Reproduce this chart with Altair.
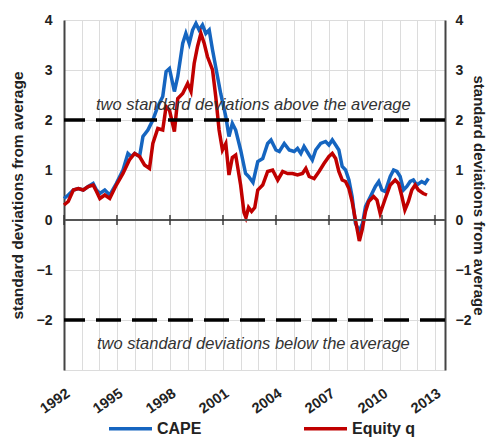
import altair as alt
import pandas as pd

# ---- data ----
cape_years = [1992.0, 1992.24, 1992.53, 1992.81, 1993.09, 1993.37, 1993.65, 1993.84, 1994.03, 1994.31,
              1994.59, 1994.96, 1995.34, 1995.62, 1995.81, 1996.0, 1996.28, 1996.47, 1996.75, 1997.03,
              1997.31, 1997.59, 1997.78, 1997.97, 1998.25, 1998.44, 1998.72, 1998.9, 1999.09, 1999.28,
              1999.47, 1999.65, 1999.84, 2000.03, 2000.22, 2000.41, 2000.69, 2000.87, 2001.16, 2001.34,
              2001.53, 2001.72, 2002.0, 2002.28, 2002.45, 2002.7, 2002.97, 2003.25, 2003.53, 2003.72,
              2004.0, 2004.19, 2004.47, 2004.75, 2005.03, 2005.22, 2005.41, 2005.59, 2005.88, 2006.06,
              2006.25, 2006.53, 2006.81, 2007.0, 2007.19, 2007.38, 2007.56, 2007.75, 2007.94, 2008.13,
              2008.31, 2008.5, 2008.72, 2008.9, 2009.07, 2009.35, 2009.63, 2009.82, 2010.0, 2010.19,
              2010.47, 2010.66, 2010.85, 2011.03, 2011.22, 2011.41, 2011.6, 2011.78, 2011.97, 2012.25,
              2012.44, 2012.63]
cape_vals = [0.43, 0.5, 0.6, 0.63, 0.6, 0.67, 0.73, 0.6, 0.53, 0.6,
             0.5, 0.73, 1.0, 1.33, 1.27, 1.33, 1.27, 1.67, 1.8, 2.0,
             2.27, 2.47, 2.97, 3.03, 2.57, 2.87, 3.53, 3.73, 3.53, 3.8,
             3.93, 3.8, 3.9, 3.73, 3.8, 3.4, 2.87, 2.53, 2.07, 1.67,
             1.93, 1.8, 1.4, 0.93, 0.87, 0.75, 1.17, 1.23, 1.53, 1.6,
             1.4, 1.37, 1.53, 1.4, 1.37, 1.43, 1.33, 1.47, 1.3, 1.2,
             1.4, 1.53, 1.57, 1.5, 1.6, 1.5, 1.4, 1.07, 1.0, 0.8,
             0.47, -0.07, -0.22, -0.07, 0.27, 0.47, 0.67, 0.77, 0.6, 0.57,
             0.87, 1.0, 0.97, 0.87, 0.6, 0.67, 0.77, 0.8, 0.7, 0.77,
             0.73, 0.83]

q_years = [1992.0, 1992.24, 1992.53, 1992.81, 1993.09, 1993.37, 1993.65, 1993.84, 1994.03, 1994.31,
           1994.59, 1994.96, 1995.34, 1995.7, 1996.0, 1996.28, 1996.56, 1996.84, 1997.03, 1997.31,
           1997.59, 1997.78, 1997.97, 1998.25, 1998.44, 1998.72, 1999.0, 1999.19, 1999.37, 1999.56,
           1999.75, 1999.94, 2000.12, 2000.41, 2000.59, 2000.78, 2000.97, 2001.16, 2001.34, 2001.53,
           2001.72, 2002.0, 2002.19, 2002.3, 2002.45, 2002.62, 2002.8, 2002.97, 2003.25, 2003.53,
           2003.81, 2004.1, 2004.38, 2004.66, 2004.94, 2005.22, 2005.5, 2005.69, 2005.88, 2006.16,
           2006.44, 2006.72, 2007.0, 2007.19, 2007.38, 2007.56, 2007.75, 2007.94, 2008.13, 2008.31,
           2008.5, 2008.72, 2008.88, 2009.07, 2009.25, 2009.53, 2009.72, 2009.9, 2010.19, 2010.47,
           2010.75, 2010.94, 2011.13, 2011.3, 2011.5, 2011.69, 2011.88, 2012.06, 2012.34, 2012.55]
q_vals = [0.3, 0.37, 0.6, 0.63, 0.6, 0.67, 0.7, 0.57, 0.43, 0.5,
          0.43, 0.7, 0.93, 1.2, 1.33, 1.27, 1.1, 1.03, 1.53, 1.83,
          1.8, 2.27, 2.2, 1.77, 2.43, 2.53, 2.73, 2.57, 3.13, 3.47,
          3.73, 3.53, 3.27, 3.0, 2.47, 1.8, 1.4, 1.53, 0.9, 1.25,
          1.3, 0.7, 0.15, 0.05, 0.25, 0.17, 0.25, 0.6, 0.7, 0.97,
          1.0, 0.8, 0.97, 0.93, 0.93, 0.9, 0.93, 1.03, 0.87, 0.83,
          0.97, 1.13, 1.27, 1.33, 1.23, 0.97, 0.8, 0.77, 0.63, 0.37,
          0.0, -0.42, -0.2, 0.17, 0.37, 0.47, 0.4, 0.13, 0.43, 0.7,
          0.8, 0.73, 0.47, 0.2, 0.37, 0.6, 0.7, 0.6, 0.53, 0.5]

series_names = ["CAPE", "Equity q"]
series_colors = ["#1565c0", "#c00000"]
x_tick_years = list(range(1992, 2014, 3))
grid_years = list(range(1992, 2014))
y_values = [-3, -2, -1, 0, 1, 2, 3, 4]
band_levels = [2, -2]
note_texts = ["two standard deviations above the average",
              "two standard deviations below the average"]
note_x = [2002.72, 2002.72]
note_y = [2.21, -2.57]
y_title = "standard deviations from average"

FONT = "Liberation Sans"

df = pd.concat([
    pd.DataFrame({"year": cape_years, "value": cape_vals, "series": "CAPE"}),
    pd.DataFrame({"year": q_years, "value": q_vals, "series": "Equity q"}),
], ignore_index=True)

xscale = alt.Scale(domain=[1992, 2013.57], nice=False, zero=False)
yscale = alt.Scale(domain=[-3, 4], nice=False)

label_expr = "datum.value == -3 ? '' : datum.label"

x_axis = alt.Axis(values=grid_years, labelExpr="datum.value % 3 == 0 ? datum.label : ''",
                  title=None, ticks=False, domain=False, grid=True, gridColor="#dcdcdc",
                  labelAngle=-35, labelAlign="right", labelBaseline="top", labelPadding=16,
                  labelFont=FONT, labelFontSize=14.5, labelFontWeight="bold", labelColor="#222",
                  format="d", labelOverlap=False)

lines = alt.Chart(df).mark_line(strokeWidth=3.5).encode(
    x=alt.X("year:Q", scale=xscale, axis=x_axis),
    y=alt.Y("value:Q", scale=yscale,
            axis=alt.Axis(values=y_values, labelExpr=label_expr, title=y_title, orient="left",
                          ticks=False, domain=True, domainColor="#444", domainWidth=2,
                          grid=True, gridColor="#dcdcdc", labelPadding=12,
                          labelFont=FONT, labelFontSize=14, labelFontWeight="bold", labelColor="#222",
                          titleFont=FONT, titleFontSize=15.5, titleFontWeight="bold", titleColor="#222",
                          titlePadding=11)),
    color=alt.Color("series:N", scale=alt.Scale(domain=series_names, range=series_colors),
                    legend=alt.Legend(title=None, orient="none", legendX=43, legendY=385,
                                      direction="horizontal", symbolType="stroke",
                                      symbolSize=1849, symbolStrokeWidth=3.5, columnPadding=95,
                                      labelFont=FONT, labelFontSize=16, labelFontWeight="bold",
                                      labelColor="#222", labelOffset=3)),
)

bands_df = pd.DataFrame({"level": band_levels})
bands = alt.Chart(bands_df).mark_rule(color="black", strokeWidth=3.5, strokeDash=[25, 11]).encode(
    y=alt.Y("level:Q", scale=yscale,
            axis=alt.Axis(values=y_values, labelExpr=label_expr, title=y_title, orient="right",
                          ticks=False, domain=True, domainColor="#444", domainWidth=2,
                          grid=False, labelPadding=10,
                          labelFont=FONT, labelFontSize=14, labelFontWeight="bold", labelColor="#222",
                          titleFont=FONT, titleFontSize=15, titleFontWeight="bold", titleColor="#222",
                          titlePadding=0)),
)

zero_df = pd.DataFrame({"level": [0]})
zero_line = alt.Chart(zero_df).mark_rule(color="#555", strokeWidth=2).encode(
    y=alt.Y("level:Q", scale=yscale, axis=None),
)

ticks_df = pd.DataFrame({"year": x_tick_years, "level": [0] * len(x_tick_years)})
zero_ticks = alt.Chart(ticks_df).mark_tick(color="#333", thickness=2, size=10, orient="vertical").encode(
    x=alt.X("year:Q", scale=xscale, axis=x_axis),
    y=alt.Y("level:Q", scale=yscale, axis=None),
)

notes_df = pd.DataFrame({"x": note_x, "y": note_y, "text": note_texts})
notes = alt.Chart(notes_df).mark_text(font=FONT, fontSize=16.5, fontStyle="italic", color="#333",
                                      align="center", baseline="alphabetic").encode(
    x=alt.X("x:Q", scale=xscale, axis=x_axis),
    y=alt.Y("y:Q", scale=yscale, axis=None),
    text="text:N",
)

chart = alt.layer(lines, bands, zero_line, zero_ticks, notes).resolve_axis(y="independent").properties(
    width=381, height=350,
    autosize=alt.AutoSizeParams(type="none"),
    padding={"left": 56, "top": 12, "right": 42, "bottom": 70},
).configure_view(stroke=None)

chart.save("out.html", embed_options={"renderer": "svg", "actions": False})
